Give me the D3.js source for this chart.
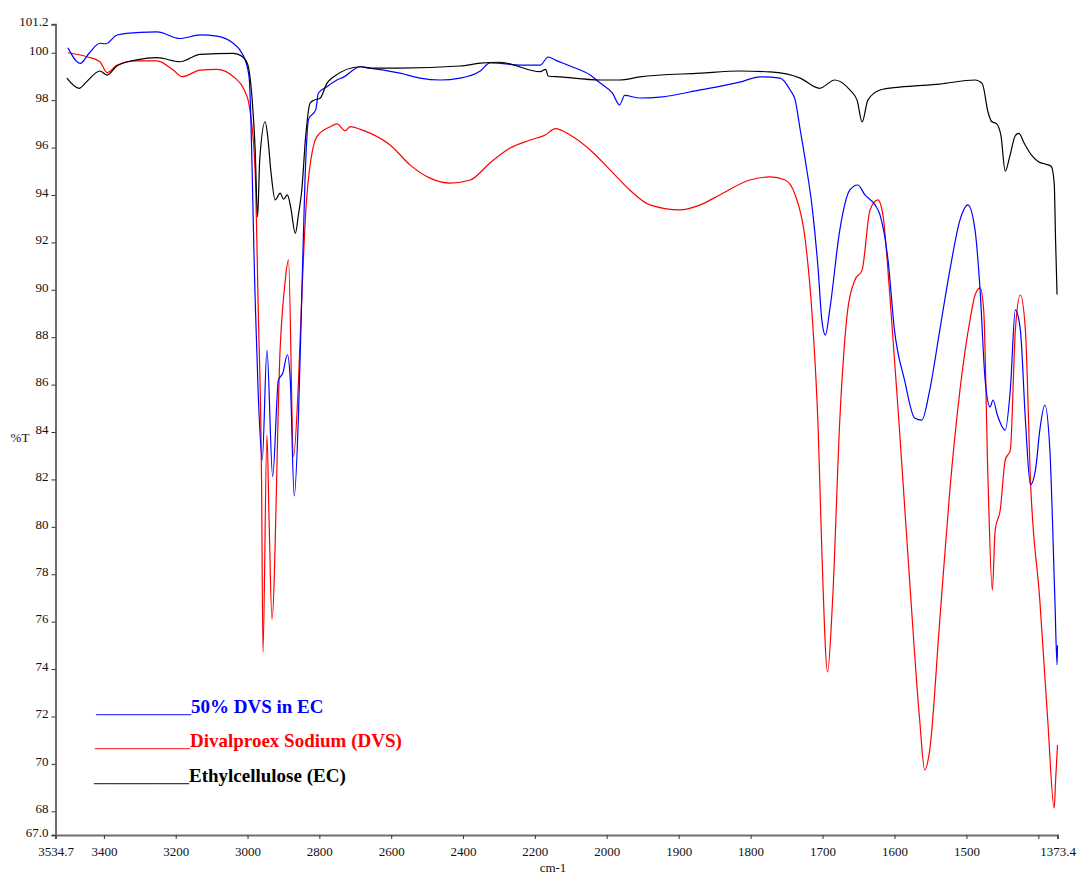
<!DOCTYPE html>
<html>
<head>
<meta charset="utf-8">
<script src="https://cdn.jsdelivr.net/npm/d3@7"></script>
<style>
  html, body { margin: 0; padding: 0; background: #fff; }
  svg { display: block; }
  text { font-family: "Liberation Serif", "Times New Roman", serif; }
</style>
</head>
<body>
<svg id="chart" width="1078" height="876"></svg>
<script>
// FTIR transmittance spectra, [wavenumber cm-1, %T]
const ecSpectrum = [
  [3503, 98.93], [3469, 98.50], [3450, 98.75], [3411, 99.23], [3391, 99.06], [3363, 99.45],
  [3308, 99.70], [3252, 99.79], [3188, 99.62], [3132, 99.93], [3040, 99.97], [3021, 99.90],
  [3001, 99.57], [2987, 98.00], [2979, 96.00], [2972, 93.08], [2966, 95.50], [2951, 97.09],
  [2944, 96.50], [2935, 95.00], [2923, 93.79], [2909, 94.08], [2900, 93.82], [2889, 94.00],
  [2880, 93.50], [2867, 92.38], [2858, 93.20], [2849, 94.20], [2838, 96.50], [2826, 97.87],
  [2815, 98.00], [2798, 98.08], [2779, 98.71], [2762, 98.97], [2686, 99.41], [2659, 99.35],
  [2575, 99.35], [2408, 99.44], [2352, 99.56], [2297, 99.60], [2185, 99.20], [2170, 99.30],
  [2163, 99.02], [2129, 98.98], [2018, 98.85], [1982, 98.85], [1954, 98.98], [1870, 99.14],
  [1815, 99.23], [1773, 99.19], [1731, 98.93], [1704, 98.50], [1683, 98.85], [1662, 98.43],
  [1652, 98.00], [1645, 97.08], [1637, 98.00], [1620, 98.43], [1593, 98.55], [1537, 98.68],
  [1488, 98.85], [1478, 98.70], [1470, 97.50], [1465, 97.10], [1458, 97.00], [1452, 96.50],
  [1446, 95.00], [1440, 95.60], [1432, 96.50], [1427, 96.60], [1420, 96.20], [1410, 95.70],
  [1400, 95.40], [1390, 95.30], [1382, 95.20], [1378, 94.50], [1376, 92.00], [1374, 89.80]
];

const dvsSpectrum = [
  [3500, 100.00], [3447, 99.83], [3411, 99.62], [3391, 99.16], [3363, 99.48], [3308, 99.66],
  [3252, 99.66], [3207, 99.27], [3182, 98.99], [3132, 99.27], [3085, 99.30], [3040, 99.00],
  [3001, 98.14], [2992, 97.44], [2979, 95.05], [2970, 89.00], [2961, 81.98], [2957, 74.72],
  [2946, 83.87], [2940, 80.30], [2932, 76.10], [2909, 87.60], [2895, 90.40], [2886, 91.26],
  [2872, 82.97], [2858, 86.20], [2849, 89.71], [2835, 93.93], [2807, 96.46], [2770, 96.88],
  [2751, 97.00], [2728, 96.71], [2714, 96.88], [2686, 96.77], [2659, 96.61], [2603, 96.11],
  [2547, 95.26], [2492, 94.71], [2436, 94.50], [2380, 94.63], [2325, 95.35], [2269, 95.98],
  [2213, 96.32], [2171, 96.53], [2143, 96.80], [2102, 96.53], [2046, 95.90], [1995, 95.05],
  [1968, 94.21], [1940, 93.58], [1898, 93.37], [1870, 93.58], [1843, 94.00], [1801, 94.63],
  [1773, 94.76], [1752, 94.63], [1738, 94.00], [1724, 92.10], [1714, 88.73], [1706, 84.08],
  [1701, 79.02], [1693, 73.88], [1686, 76.91], [1676, 84.50], [1665, 89.15], [1655, 90.41],
  [1645, 90.83], [1634, 93.37], [1623, 93.79], [1616, 93.15], [1607, 89.99], [1593, 84.08],
  [1579, 77.76], [1565, 71.86], [1558, 69.74], [1551, 70.59], [1537, 76.07], [1523, 81.56],
  [1509, 85.77], [1495, 88.73], [1488, 89.78], [1481, 90.08], [1476, 89.15], [1470, 81.98],
  [1464, 77.33], [1460, 79.87], [1453, 80.71], [1446, 82.82], [1439, 83.24], [1432, 88.30],
  [1425, 89.78], [1418, 88.30], [1411, 81.98], [1398, 76.91], [1387, 71.86], [1378, 68.14],
  [1376, 69.32], [1373.4, 70.80]
];

const blendSpectrum = [
  [3500, 100.21], [3466, 99.55], [3440, 100.00], [3411, 100.40], [3395, 100.38], [3363, 100.75],
  [3299, 100.86], [3252, 100.88], [3188, 100.60], [3132, 100.75], [3085, 100.70], [3040, 100.40],
  [3021, 100.11], [3001, 99.41], [2995, 98.85], [2979, 89.73], [2970, 85.50], [2959, 82.83],
  [2946, 87.46], [2930, 82.12], [2914, 86.20], [2902, 86.48], [2889, 87.26], [2881, 86.19],
  [2870, 81.30], [2858, 84.79], [2849, 89.73], [2840, 94.65], [2830, 97.20], [2810, 97.60],
  [2803, 98.29], [2779, 98.57], [2751, 98.85], [2734, 98.96], [2686, 99.41], [2659, 99.35],
  [2575, 99.14], [2520, 98.93], [2464, 98.85], [2408, 98.93], [2352, 99.23], [2325, 99.57],
  [2297, 99.55], [2241, 99.48], [2185, 99.48], [2163, 99.82], [2143, 99.69], [2102, 99.44],
  [2046, 99.06], [2018, 98.72], [1992, 98.30], [1982, 97.80], [1975, 98.20], [1954, 98.09],
  [1926, 98.13], [1870, 98.43], [1815, 98.76], [1787, 98.98], [1759, 98.93], [1745, 98.43],
  [1738, 98.00], [1731, 96.74], [1724, 95.47], [1714, 93.37], [1706, 90.83], [1701, 88.73],
  [1696, 88.09], [1690, 89.15], [1676, 92.52], [1662, 94.21], [1651, 94.42], [1641, 94.00],
  [1627, 93.58], [1620, 93.15], [1609, 91.26], [1600, 88.30], [1586, 86.19], [1572, 84.59],
  [1562, 84.50], [1551, 85.77], [1537, 88.30], [1523, 90.83], [1509, 92.94], [1498, 93.58],
  [1488, 92.52], [1481, 89.99], [1474, 86.20], [1467, 85.06], [1463, 85.35], [1457, 84.72],
  [1446, 84.08], [1439, 85.77], [1432, 89.15], [1425, 88.30], [1418, 84.50], [1411, 81.77],
  [1404, 82.40], [1398, 84.08], [1391, 85.14], [1384, 83.24], [1377, 76.91], [1374, 74.18],
  [1373.4, 75.00]
];

// axis ticks
const xTicks = [3534.7, 3400, 3200, 3000, 2800, 2600, 2400, 2200, 2000, 1900, 1800, 1700, 1600, 1500, 1400, 1373.4];
const xTickLabels = ["3534.7", "3400", "3200", "3000", "2800", "2600", "2400", "2200", "2000", "1900", "1800", "1700", "1600", "1500", "", "1373.4"];
const yTicks = [67.0, 68, 70, 72, 74, 76, 78, 80, 82, 84, 86, 88, 90, 92, 94, 96, 98, 100, 101.2];
const yTickLabels = ["67.0", "68", "70", "72", "74", "76", "78", "80", "82", "84", "86", "88", "90", "92", "94", "96", "98", "100", "101.2"];

// legend
const seriesNames = ["50% DVS in EC", "Divalproex Sodium (DVS)", "Ethylcellulose (EC)"];
const seriesColors = ["#0000ff", "#ff0000", "#000000"];

const svg = d3.select("#chart");
svg.append("rect").attr("width", 1078).attr("height", 876).attr("fill", "#fff");

// wavenumber axis is expanded 2x below 2000 cm-1
const x = d3.scaleLinear().domain([3534.7, 2000, 1373.4]).range([55.5, 606.7, 1057.5]);
const y = d3.scaleLinear().domain([67.0, 101.2]).range([835, 24.3]);

const axisColor = "#6e6e6e";

// y axis
const yAxis = d3.axisLeft(y).tickValues(yTicks)
  .tickFormat((d, i) => yTickLabels[i]).tickSize(4).tickPadding(3);
const gy = svg.append("g").attr("transform", "translate(55.5,0)").call(yAxis);
gy.select(".domain").attr("stroke", axisColor).attr("stroke-width", 2);
gy.selectAll(".tick line").attr("stroke", "#333").attr("stroke-width", 1);
gy.selectAll(".tick text").attr("font-size", 13).attr("fill", "#111")
  .attr("font-family", "Liberation Serif, serif").attr("dy", "0.1em");

// x axis
const xAxis = d3.axisBottom(x).tickValues(xTicks)
  .tickFormat((d, i) => xTickLabels[i]).tickSize(4).tickPadding(8);
const gx = svg.append("g").attr("transform", "translate(0,835)").call(xAxis);
gx.select(".domain").attr("stroke", axisColor).attr("stroke-width", 2);
gx.selectAll(".tick line").attr("stroke", "#333").attr("stroke-width", 1);
gx.selectAll(".tick text").attr("font-size", 13).attr("fill", "#111")
  .attr("font-family", "Liberation Serif, serif");

// axis titles
svg.append("text").attr("x", 20).attr("y", 442).attr("text-anchor", "middle")
  .attr("font-size", 13).attr("fill", "#111").text("%T");
svg.append("text").attr("x", 553).attr("y", 872).attr("text-anchor", "middle")
  .attr("font-size", 13).attr("fill", "#111").text("cm-1");

// spectra
const line = d3.line()
  .x(d => x(d[0]))
  .y(d => y(d[1]))
  .curve(d3.curveMonotoneX);

const spectra = [
  { data: dvsSpectrum, color: seriesColors[1] },
  { data: blendSpectrum, color: seriesColors[0] },
  { data: ecSpectrum, color: seriesColors[2] }
];
svg.append("g").selectAll("path").data(spectra).join("path")
  .attr("d", d => line(d.data))
  .attr("fill", "none")
  .attr("stroke", d => d.color)
  .attr("stroke-width", 1.2)
  .attr("stroke-linejoin", "round");

// legend entries
const legendRows = [713, 747, 782];
const legend = svg.append("g");
seriesNames.forEach((name, i) => {
  const t = legend.append("text")
    .attr("x", 96 - i)
    .attr("y", legendRows[i])
    .attr("font-size", 19)
    .attr("font-weight", "bold")
    .attr("fill", seriesColors[i]);
  t.append("tspan").attr("fill", seriesColors[i]).attr("opacity", 0.75).text("__________");
  t.append("tspan").text(name);
});
</script>
</body>
</html>
